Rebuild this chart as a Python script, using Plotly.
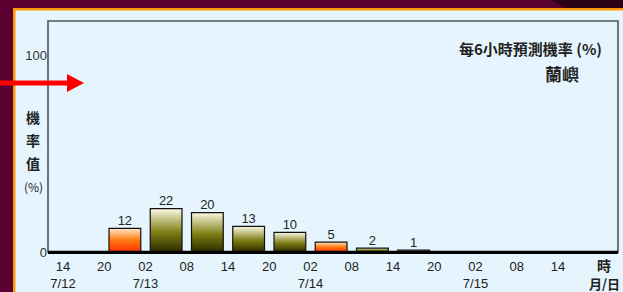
import plotly.graph_objects as go

# ---- data ----
hour_labels = ["14", "20", "02", "08", "14", "20", "02", "08", "14", "20", "02", "08", "14"]
date_labels = ["7/12", "", "7/13", "", "", "", "7/14", "", "", "", "7/15", "", ""]
probs = [None, 12, 22, 20, 13, 10, 5, 2, 1, None, None, None]
bar_kind = ["", "orange", "olive", "olive", "olive", "olive", "orange", "olive", "olive", "", "", ""]

W, H = 623, 292
L, R, T, B = 48, 618, 21, 252


def px(x):
    return (x - L) / (R - L)


def py(y):
    return (B - y) / (B - T)


scales = {
    "olive": [[0, "#2a2a00"], [0.45, "#7d7d12"], [1, "#fbf9e4"]],
    "orange": [[0, "#ff3000"], [0.5, "#ff7a12"], [1, "#ffe6c6"]],
}

fig = go.Figure()
half = 0.385
for i, v in enumerate(probs):
    if v is None:
        continue
    c = i + 0.5
    fig.add_trace(go.Scatter(
        x=[c - half, c + half, c + half, c - half, c - half],
        y=[0, 0, v, v, 0],
        mode="lines", fill="toself",
        fillgradient=dict(type="vertical", colorscale=scales[bar_kind[i]], start=0, stop=v),
        line=dict(color="#111111", width=1.2),
        hoverinfo="skip", showlegend=False,
    ))

lab_x = [i + 0.5 for i, v in enumerate(probs) if v is not None]
lab_y = [v for v in probs if v is not None]
fig.add_trace(go.Scatter(
    x=lab_x, y=lab_y, mode="text", text=[str(v) for v in lab_y],
    textposition="top center",
    textfont=dict(family="Liberation Sans, Arial", size=13, color="#222222"),
    showlegend=False, hoverinfo="skip", cliponaxis=False,
))

ticktext = [h + ("<br>" + d if d else "") for h, d in zip(hour_labels, date_labels)]

xr0 = (L - 63) / 41.25
xr1 = (R - 63) / 41.25

fig.update_layout(
    width=W, height=H,
    margin=dict(l=L, r=W - R, t=T, b=H - B, autoexpand=False),
    paper_bgcolor="#5a0030",
    plot_bgcolor="rgba(0,0,0,0)",
    xaxis=dict(range=[xr0, xr1], tickvals=list(range(len(hour_labels))), ticktext=ticktext,
               showgrid=False, zeroline=False, showline=True, linecolor="#000000", linewidth=2,
               ticks="", ticklabelstandoff=1, automargin=False,
               tickfont=dict(family="Liberation Sans, Arial", size=13, color="#222222")),
    yaxis=dict(range=[0, 117.3], tickvals=[0, 100], ticktext=["0", "100"],
               showgrid=False, zeroline=False, showline=False, ticks="", automargin=False,
               tickfont=dict(family="Liberation Sans, Arial", size=13, color="#333333")),
    font=dict(family="Noto Sans CJK TC"),
    hovermode=False,
)

shapes = [
    # dark top band
    dict(type="path", xref="paper", yref="paper", layer="below",
         path=f"M {px(548)} {py(-2)} L {px(640)} {py(-2)} L {px(640)} {py(8)} L {px(565)} {py(8)} Z",
         fillcolor="#2a0014", line=dict(width=0)),
    # orange panel border
    dict(type="rect", xref="paper", yref="paper", layer="below",
         x0=px(13), x1=px(640), y0=py(300), y1=py(8),
         fillcolor="#ff9900", line=dict(width=0)),
    # light panel
    dict(type="rect", xref="paper", yref="paper", layer="below",
         x0=px(15.5), x1=px(640), y0=py(300), y1=py(10.5),
         fillcolor="#e6f5fd", line=dict(width=0)),
    # plot frame
    dict(type="rect", xref="paper", yref="paper", layer="above",
         x0=0, x1=1, y0=0, y1=1, line=dict(color="#4f555c", width=1.6)),
    # red arrow
    dict(type="line", xref="paper", yref="paper", layer="above",
         x0=px(-2), x1=px(70), y0=py(83), y1=py(83), line=dict(color="#ff0000", width=5)),
    dict(type="path", xref="paper", yref="paper", layer="above",
         path=f"M {px(67)} {py(74)} L {px(84)} {py(83)} L {px(67)} {py(92)} Z",
         fillcolor="#ff0000", line=dict(width=0)),
]
shapes.append(dict(type="line", xref="paper", yref="paper", layer="above",
                   x0=0, x1=1, y0=0, y1=0, line=dict(color="#000000", width=2.5)))
fig.update_layout(shapes=shapes)

ann = []
for txt, y, size in [("<b>機</b>", 117, 14), ("<b>率</b>", 140, 14), ("<b>值</b>", 163, 14), ("(%)", 186, 12)]:
    ann.append(dict(text=txt, x=px(33), y=py(y), xref="paper", yref="paper", showarrow=False,
                    xanchor="center", yanchor="middle",
                    font=dict(family="Noto Sans CJK TC", size=size, color="#222222")))
ann.append(dict(text="<b>每6小時預測機率 (%)</b>", x=px(604), y=py(48), xref="paper", yref="paper",
                showarrow=False, xanchor="right", yanchor="middle",
                font=dict(family="Noto Sans CJK TC", size=15, color="#222222")))
ann.append(dict(text="<b>蘭嶼</b>", x=px(581), y=py(73), xref="paper", yref="paper",
                showarrow=False, xanchor="right", yanchor="middle",
                font=dict(family="Noto Sans CJK TC", size=17, color="#222222")))
ann.append(dict(text="<b>時</b>", x=px(604), y=py(265), xref="paper", yref="paper",
                showarrow=False, xanchor="center", yanchor="middle",
                font=dict(family="Noto Sans CJK TC", size=14, color="#222222")))
ann.append(dict(text="<b>月/日</b>", x=px(604), y=py(283), xref="paper", yref="paper",
                showarrow=False, xanchor="center", yanchor="middle",
                font=dict(family="Noto Sans CJK TC", size=13, color="#222222")))
fig.update_layout(annotations=ann)

fig.write_html("out.html", config={"displayModeBar": False, "staticPlot": True},
               post_script="document.body.style.margin='0';document.body.style.padding='0';")
